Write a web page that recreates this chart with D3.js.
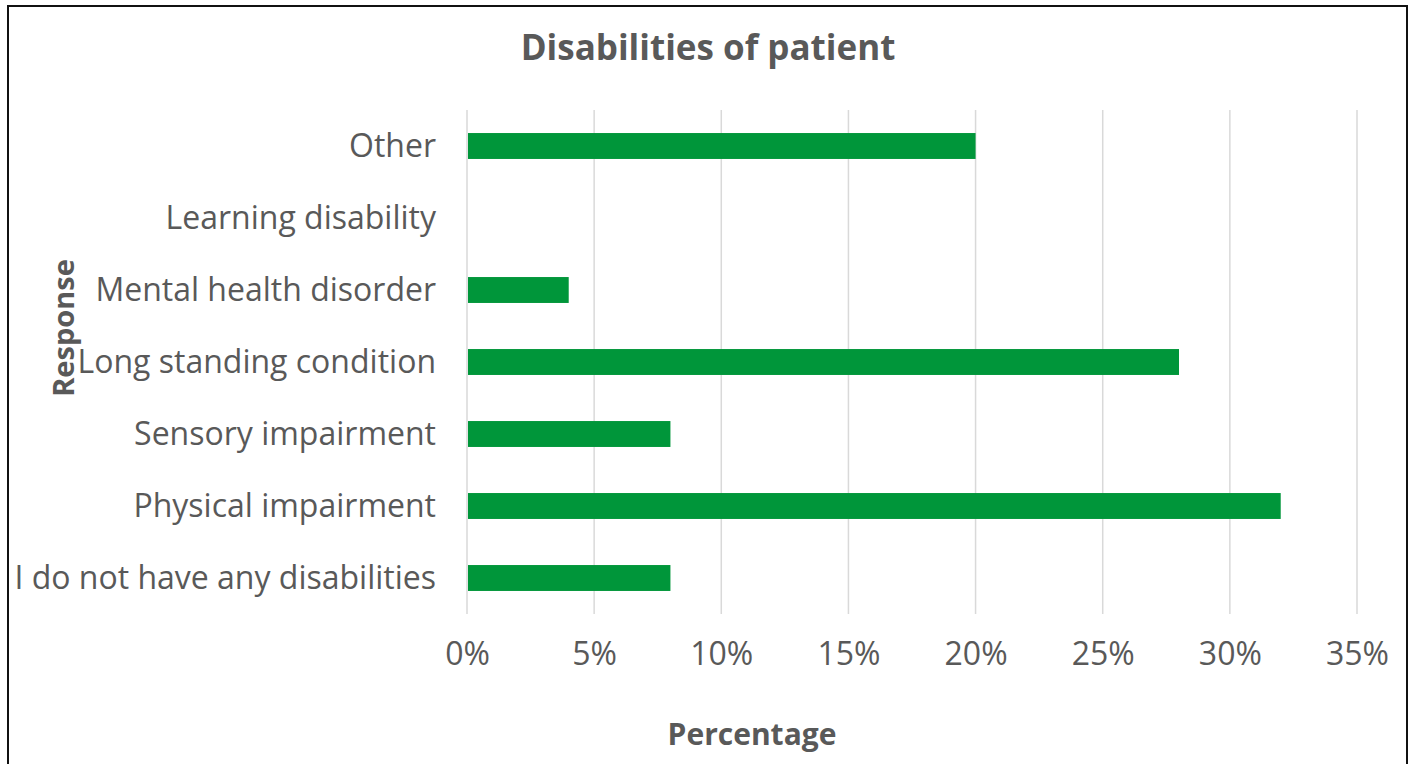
<!DOCTYPE html>
<html>
<head>
<meta charset="utf-8">
<script src="https://cdn.jsdelivr.net/npm/d3@7"></script>
<style>
  html, body { margin: 0; padding: 0; background: #fff; }
  svg { display: block; }
  text { font-family: "Open Sans", "Noto Sans", sans-serif; fill: #595959; }
</style>
</head>
<body>
<svg id="chart" width="1410" height="764"></svg>
<script>
const categories = [
  "Other",
  "Learning disability",
  "Mental health disorder",
  "Long standing condition",
  "Sensory impairment",
  "Physical impairment",
  "I do not have any disabilities"
];
const values = [20, 0, 4, 28, 8, 32, 8];
const xTicks = [0, 5, 10, 15, 20, 25, 30, 35];
const titleText = "Disabilities of patient";
const xTitle = "Percentage";
const yTitle = "Response";

const svg = d3.select("#chart");
const plot = { left: 467, right: 1357, top: 110, bottom: 614 };

// outer border
svg.append("rect")
  .attr("x", 8).attr("y", 6)
  .attr("width", 1399).attr("height", 770)
  .attr("fill", "#fff").attr("stroke", "#111").attr("stroke-width", 2);

const x = d3.scaleLinear().domain([0, 35]).range([plot.left, plot.right]);
const y = d3.scaleBand().domain(categories).range([plot.top, plot.bottom])
  .paddingInner(0.64).paddingOuter(0.32);

// gridlines
svg.append("g").selectAll("line").data(xTicks).join("line")
  .attr("x1", d => x(d)).attr("x2", d => x(d))
  .attr("y1", plot.top).attr("y2", plot.bottom)
  .attr("stroke", "#d9d9d9").attr("stroke-width", 1.5);

// bars
svg.append("g").selectAll("rect").data(categories).join("rect")
  .attr("x", x(0) + 1)
  .attr("y", d => y(d))
  .attr("width", (d, i) => Math.max(0, x(values[i]) - x(0) - 1))
  .attr("height", y.bandwidth())
  .attr("fill", "#00963a");

// x axis tick labels
const xAxis = d3.axisBottom(x).tickValues(xTicks).tickFormat(d => d + "%").tickSize(0).tickPadding(0);
const gx = svg.append("g").attr("transform", `translate(0, ${plot.bottom})`).call(xAxis);
gx.select(".domain").remove();
gx.selectAll("text")
  .attr("y", 0).attr("dy", null)
  .attr("transform", "translate(0, 51)")
  .style("font-size", "32px")
  .style("font-family", "'Open Sans', sans-serif")
  .attr("fill", "#595959");

// y axis labels
const yAxis = d3.axisLeft(y).tickSize(0).tickPadding(31);
const gy = svg.append("g").attr("transform", `translate(${plot.left}, 0)`).call(yAxis);
gy.select(".domain").remove();
gy.selectAll("text")
  .attr("dy", "0.35em")
  .style("font-size", "32px")
  .style("font-family", "'Open Sans', sans-serif")
  .attr("fill", "#595959");

// title
svg.append("text")
  .attr("x", 708).attr("y", 60)
  .attr("text-anchor", "middle")
  .style("font-size", "35px").style("font-weight", "bold")
  .text(titleText);

// x title
svg.append("text")
  .attr("x", 752).attr("y", 745)
  .attr("text-anchor", "middle")
  .style("font-size", "30px").style("font-weight", "bold")
  .text(xTitle);

// y title
svg.append("text")
  .attr("transform", "translate(74, 328) rotate(-90)")
  .attr("text-anchor", "middle")
  .style("font-size", "29px").style("font-weight", "bold")
  .text(yTitle);
</script>
</body>
</html>
